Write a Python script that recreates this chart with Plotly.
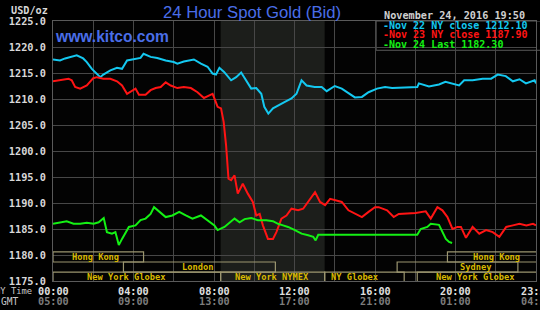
import plotly.graph_objects as go

# ---------------- data ----------------
nov22_hours = [0, 0.35, 0.6, 1.18, 1.5, 1.68, 1.93, 2.18, 2.35, 2.5, 2.85, 3.18, 3.43, 3.68, 4.0, 4.35, 4.5, 4.85,
               5.18, 5.6, 6.0, 6.18, 6.5, 7.0, 7.35, 7.68, 7.93, 8.1, 8.27, 8.5, 8.85, 9.1, 9.35, 9.6, 9.85, 10.1,
               10.35, 10.5, 10.7, 10.93, 11.18, 11.5, 11.85, 12.1, 12.35, 12.6, 13.0, 13.35, 13.6, 14.0, 14.35,
               14.68, 15.0, 15.35, 15.68, 16.1, 16.5, 16.85, 18.1, 18.18, 18.68, 19.18, 19.5, 20.18, 20.43, 20.85,
               21.35, 21.77, 22.1, 22.5, 22.85, 23.18, 23.5, 23.93, 24.0]
nov22_prices = [1217.6, 1217.4, 1217.8, 1218.4, 1217.8, 1217.1, 1215.8, 1214.9, 1214.2, 1214.7, 1215.5, 1216.0,
                1215.8, 1217.4, 1217.6, 1217.9, 1218.7, 1218.1, 1217.9, 1217.4, 1217.1, 1216.8, 1217.2, 1217.6,
                1216.8, 1216.2, 1214.9, 1214.7, 1216.0, 1215.2, 1213.6, 1214.2, 1215.1, 1213.6, 1212.0, 1212.1,
                1211.0, 1208.5, 1207.2, 1208.2, 1208.8, 1209.4, 1210.1, 1211.0, 1213.6, 1212.6, 1212.3, 1212.3,
                1211.5, 1212.5, 1212.0, 1211.2, 1210.3, 1210.4, 1211.3, 1212.0, 1212.3, 1212.1, 1212.3, 1213.0,
                1212.4, 1212.8, 1213.3, 1212.6, 1213.6, 1213.6, 1213.9, 1213.9, 1214.7, 1214.4, 1213.4, 1213.8,
                1213.0, 1213.6, 1213.0]

nov23_hours = [0, 0.35, 0.77, 0.93, 1.1, 1.35, 1.68, 2.0, 2.18, 2.5, 2.85, 3.18, 3.43, 3.68, 3.93, 4.1, 4.27, 4.6,
               4.85, 5.1, 5.35, 5.6, 5.85, 6.18, 6.5, 6.85, 7.18, 7.5, 7.77, 7.93, 8.02, 8.18, 8.35, 8.48, 8.6,
               8.72, 8.85, 9.02, 9.18, 9.43, 9.68, 9.93, 10.1, 10.27, 10.43, 10.68, 10.93, 11.1, 11.35, 11.6,
               11.85, 12.18, 12.43, 12.68, 13.02, 13.27, 13.52, 13.77, 14.1, 14.35, 14.68, 15.02, 15.35, 15.68,
               16.0, 16.18, 16.6, 16.93, 17.18, 18.02, 18.52, 18.77, 19.1, 19.35, 19.6, 19.85, 20.1, 20.27, 20.52,
               20.85, 21.18, 21.52, 21.85, 22.18, 22.52, 22.85, 23.18, 23.52, 23.85, 24.0]
nov23_prices = [1213.4, 1213.6, 1213.9, 1213.6, 1212.3, 1212.0, 1212.6, 1214.0, 1214.2, 1213.9, 1213.9, 1213.4,
                1212.6, 1211.0, 1211.7, 1212.0, 1210.8, 1210.8, 1211.7, 1212.1, 1212.3, 1213.2, 1212.6, 1212.1,
                1212.3, 1212.1, 1211.3, 1210.2, 1210.7, 1211.0, 1210.1, 1208.5, 1208.2, 1205.6, 1201.1, 1194.7,
                1194.4, 1195.3, 1191.8, 1193.7, 1191.8, 1190.2, 1187.6, 1187.9, 1185.7, 1183.1, 1183.1, 1184.4,
                1187.0, 1187.6, 1188.9, 1188.6, 1188.9, 1190.2, 1192.1, 1190.2, 1189.6, 1190.8, 1190.5, 1190.2,
                1188.6, 1187.9, 1187.3, 1188.3, 1189.2, 1189.2, 1188.6, 1187.3, 1187.9, 1188.1, 1188.4, 1187.0,
                1189.2, 1188.6, 1187.3, 1185.0, 1185.4, 1185.4, 1183.3, 1185.4, 1184.1, 1184.8, 1184.4, 1183.5,
                1185.4, 1185.7, 1186.0, 1185.7, 1186.0, 1185.7]

nov24_hours = [0, 0.35, 0.68, 1.02, 1.35, 1.68, 2.02, 2.27, 2.52, 2.68, 2.93, 3.1, 3.27, 3.43, 3.77, 4.1, 4.35,
               4.6, 4.85, 5.02, 5.27, 5.6, 5.93, 6.27, 6.6, 6.93, 7.35, 7.68, 8.02, 8.18, 8.52, 9.02, 9.27, 9.52,
               9.85, 10.18, 10.6, 10.93, 11.18, 11.43, 11.68, 12.02, 12.35, 12.68, 12.93, 13.05, 13.18, 18.1,
               18.27, 18.6, 18.77, 19.18, 19.35, 19.52, 19.68, 19.83]
nov24_prices = [1186.0, 1186.2, 1186.5, 1186.0, 1186.0, 1186.2, 1186.0, 1186.3, 1187.1, 1184.4, 1184.1, 1184.4,
                1181.9, 1183.1, 1185.4, 1185.7, 1186.7, 1187.0, 1187.9, 1189.2, 1188.3, 1187.3, 1187.6, 1188.3,
                1187.6, 1187.0, 1187.6, 1186.7, 1185.7, 1184.8, 1185.4, 1187.0, 1186.3, 1186.9, 1187.1, 1186.7,
                1186.7, 1186.5, 1186.0, 1185.7, 1185.4, 1184.8, 1184.1, 1183.8, 1183.5, 1182.8, 1183.9, 1183.9,
                1185.0, 1185.4, 1186.0, 1185.8, 1184.4, 1183.1, 1182.5, 1182.3]

legend_labels = ["Nov 22 NY close 1212.10", "Nov 23 NY close 1187.90", "Nov 24 Last 1182.30"]
series_colors = ["#14c8f0", "#ff1414", "#14f014"]

ny_ticks = [0, 4, 8, 12, 16, 20, 24]
ny_labels = ["00:00", "04:00", "08:00", "12:00", "16:00", "20:00", "23:59"]
gmt_labels = ["05:00", "09:00", "13:00", "17:00", "21:00", "01:00", "04:59"]

# sessions: (name, start hour, end hour, row, label hour)
sessions = [
    ("Hong Kong", 0, 4.5, 1, 2.11),
    ("Hong Kong", 19.6, 24.05, 1, 22.06),
    ("London", 3.5, 11.05, 2, 7.17),
    ("Sydney", 17.1, 23.1, 2, 20.98),
    ("New York Globex", 0, 8.33, 3, 3.63),
    ("New York NYMEX", 8.33, 13.5, 3, 10.9),
    ("NY Globex", 13.5, 17.45, 3, 14.96),
    ("New York Globex", 18.1, 24.05, 3, 20.98),
]
nymex_shade = (8.33, 13.5)

# ---------------- figure ----------------
MONO = "DejaVu Sans Mono"
fig = go.Figure()
for h, p, c in zip([nov22_hours, nov23_hours, nov24_hours],
                   [nov22_prices, nov23_prices, nov24_prices], series_colors):
    fig.add_trace(go.Scatter(x=h, y=p, mode="lines", line=dict(color=c, width=2),
                             hoverinfo="skip", showlegend=False))

shapes = []
shapes.append(dict(type="rect", xref="x", yref="y", x0=nymex_shade[0], x1=nymex_shade[1],
                   y0=1175, y1=1225, fillcolor="#1c1e1b", line=dict(width=0), layer="below"))
# legend box
shapes.append(dict(type="rect", xref="paper", yref="y", x0=0.669, x1=1.02, y0=1219.37, y1=1225,
                   fillcolor="#000000", line=dict(color="#5a5a5a", width=1), layer="between"))
row_bounds = {1: (1178.65, 1180.6), 2: (1176.7, 1178.65), 3: (1174.8, 1176.7)}
annotations = []
for name, s, e, row, lh in sessions:
    y0, y1 = row_bounds[row]
    shapes.append(dict(type="rect", xref="x", yref="y", x0=s, x1=e, y0=y0, y1=y1,
                       fillcolor="rgba(0,0,0,0)", line=dict(color="#9c9670", width=1.2), layer="above"))
    annotations.append(dict(x=lh, y=(y0 + y1) / 2, xref="x", yref="y", text=name, showarrow=False,
                            font=dict(family=MONO, size=8.7, color="#d8b800", weight="bold"),
                            xanchor="center", yanchor="middle", borderpad=0))

for t, a, b in zip(ny_ticks, ny_labels, gmt_labels):
    annotations.append(dict(x=t, y=0, xref="x", yref="paper", text=a, showarrow=False,
                            yshift=-10, yanchor="middle", xanchor="center", borderpad=0,
                            font=dict(family=MONO, size=10.2, color="#e0e0e0", weight="bold")))
    annotations.append(dict(x=t, y=0, xref="x", yref="paper", text=b, showarrow=False,
                            yshift=-20, yanchor="middle", xanchor="center", borderpad=0,
                            font=dict(family=MONO, size=10.2, color="#7c7c7c", weight="bold")))
annotations.append(dict(x=-0.041, y=0, xref="paper", yref="paper", text="NY Time", showarrow=False,
                        yshift=-10, yanchor="middle", xanchor="right", borderpad=0,
                        font=dict(family=MONO, size=8.8, color="#c8c8c8")))
annotations.append(dict(x=-0.068, y=0, xref="paper", yref="paper", text="GMT", showarrow=False,
                        yshift=-20, yanchor="middle", xanchor="right", borderpad=0,
                        font=dict(family=MONO, size=9.6, color="#c8c8c8")))
annotations.append(dict(x=-0.008, y=1, xref="paper", yref="paper", text="USD/oz", showarrow=False,
                        yshift=11, yanchor="middle", xanchor="right", borderpad=0,
                        font=dict(family=MONO, size=10.2, color="#d8d8d8", weight="bold")))
annotations.append(dict(x=0.411, y=1, xref="paper", yref="paper", text="24 Hour Spot Gold (Bid)",
                        showarrow=False, yshift=9, yanchor="middle", xanchor="center",
                        font=dict(family="Liberation Sans", size=16.7, color="#4a6ee8")))
annotations.append(dict(x=0.123, y=0.9385, xref="paper", yref="paper", text="www.kitco.com",
                        showarrow=False, yanchor="middle", xanchor="center",
                        font=dict(family="Liberation Sans", size=15.6, color="#4a6ee8", weight="bold")))
annotations.append(dict(x=0.979, y=1, xref="paper", yref="paper", text="November 24, 2016 19:50",
                        showarrow=False, yshift=6, yanchor="middle", xanchor="right", borderpad=0,
                        font=dict(family=MONO, size=10.2, color="#d0d0d0", weight="bold")))
for i, (lab, c) in enumerate(zip(legend_labels, series_colors)):
    annotations.append(dict(x=0.6805, y=[0.9835, 0.9465, 0.9095][i], xref="paper", yref="paper",
                            text="-" + lab, showarrow=False, yanchor="middle", xanchor="left", borderpad=0,
                            font=dict(family=MONO, size=10.0, color=c, weight="bold")))

fig.update_layout(
    width=540, height=310,
    margin=dict(l=53, r=4, t=21, b=29),
    paper_bgcolor="#000000", plot_bgcolor="#030303",
    shapes=shapes, annotations=annotations,
    xaxis=dict(range=[0, 24], dtick=2, tick0=0, showticklabels=False, showgrid=True,
               gridcolor="#474747", gridwidth=1, zeroline=False, showline=True,
               linecolor="#5a5a5a", mirror=True, fixedrange=True),
    yaxis=dict(range=[1175, 1225], dtick=5, tick0=1175, tickformat=".1f", showgrid=True,
               gridcolor="#474747", gridwidth=1, zeroline=False, showline=True,
               linecolor="#5a5a5a", mirror=True, ticks="", ticklabelstandoff=4,
               tickfont=dict(family=MONO, size=10.3, color="#d8d8d8", weight="bold"), fixedrange=True),
)

fig.write_html("out.html")
